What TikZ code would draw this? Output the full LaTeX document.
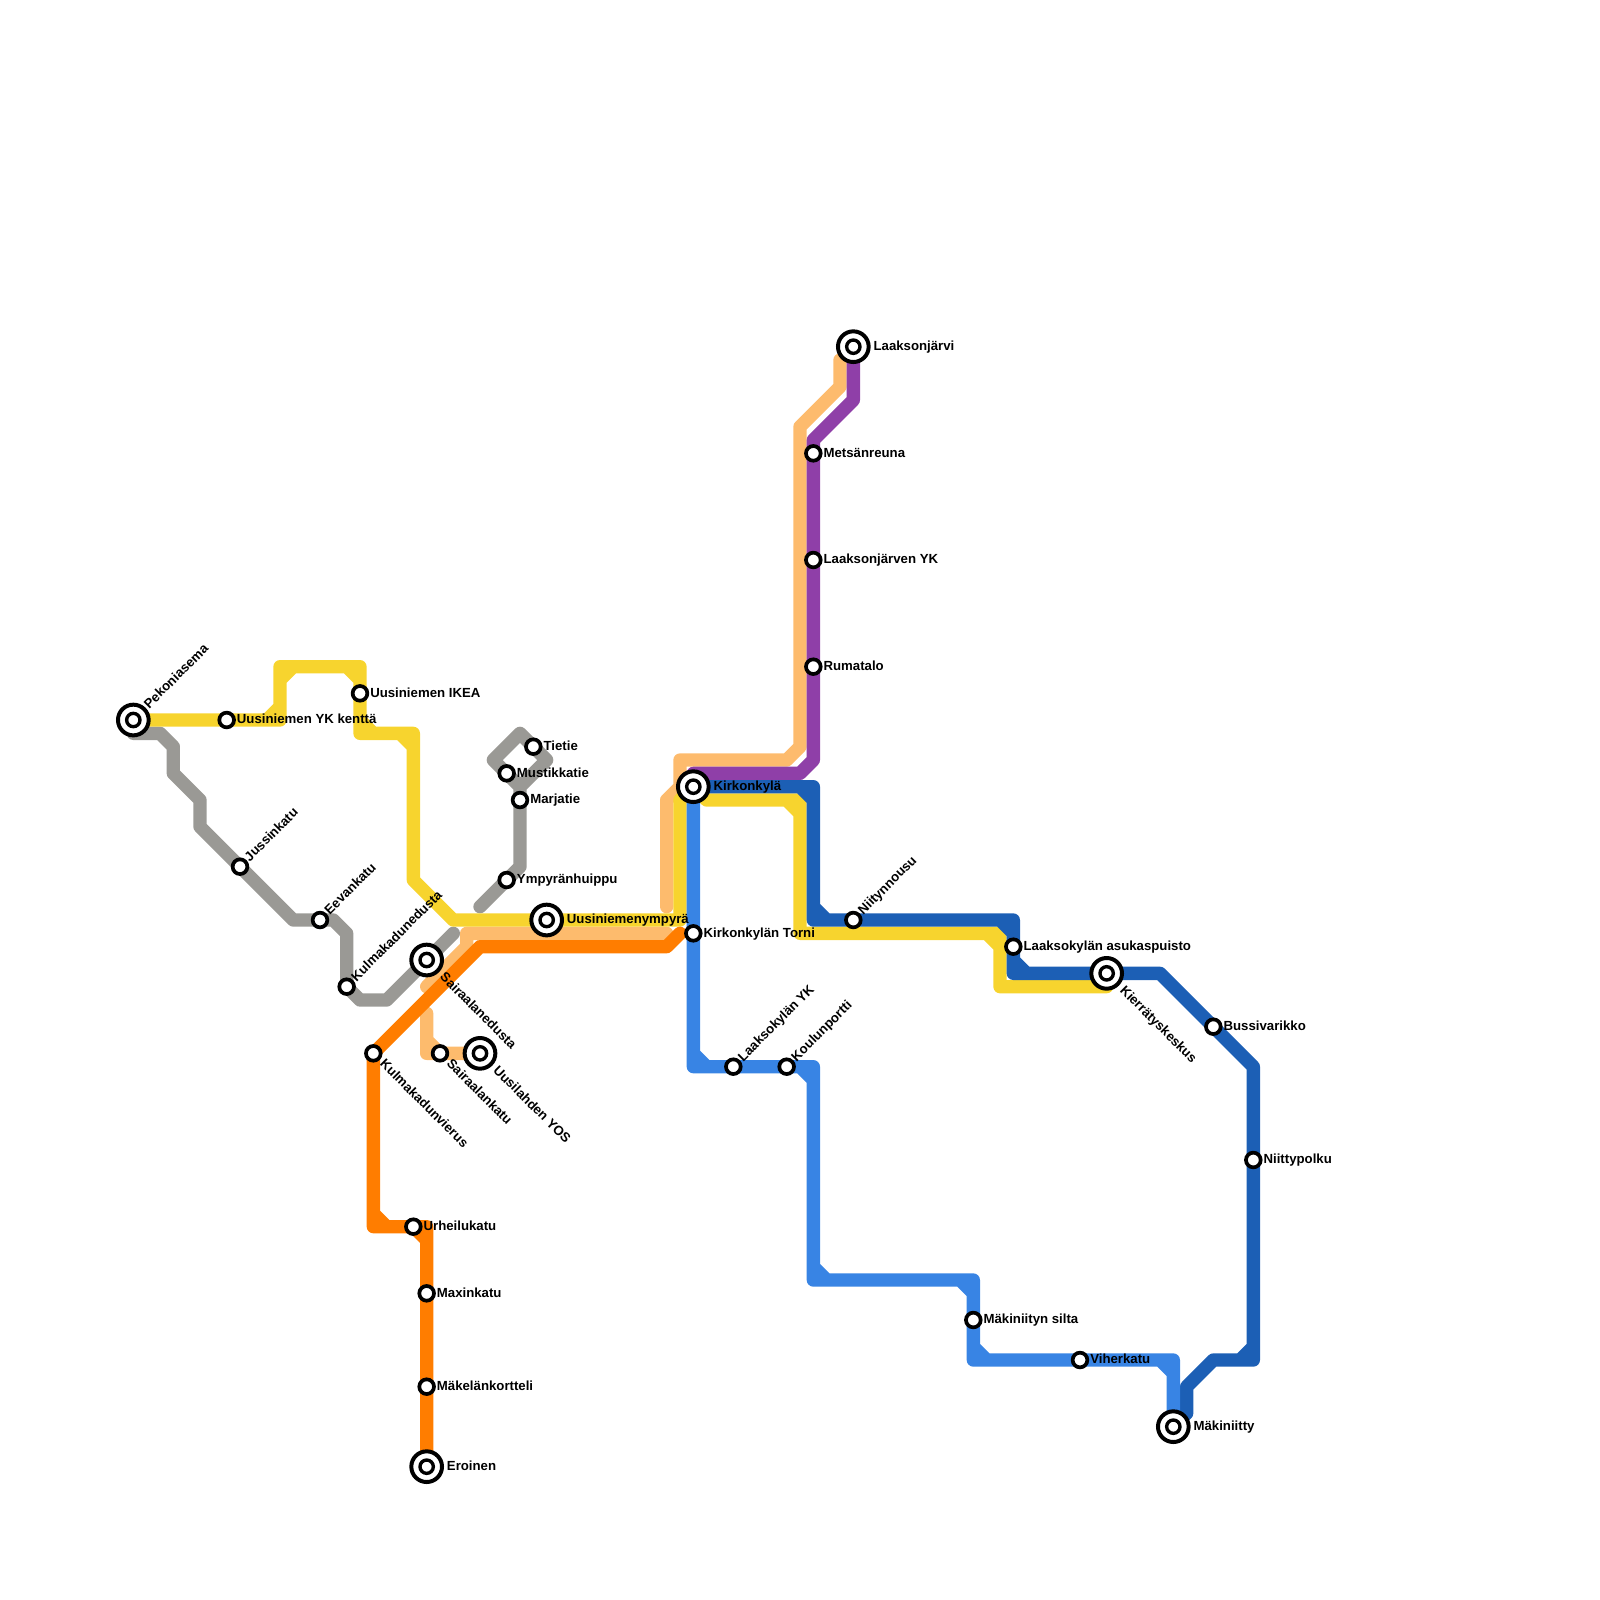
\documentclass[tikz,border=0pt]{standalone}
\usepackage{fontspec}
\setmainfont{Liberation Sans}
\usetikzlibrary{backgrounds}

\definecolor{ykeltainen}{HTML}{F7D42E}
\definecolor{harmaa}{HTML}{9A9995}
\definecolor{persikka}{HTML}{FDBB6D}
\definecolor{oranssi}{HTML}{FF7D00}
\definecolor{violetti}{HTML}{8F3FA8}
\definecolor{tummasin}{HTML}{1C5FB5}
\definecolor{sininen}{HTML}{3884E4}

\tikzset{
    route/.style={line width=1mm, line cap=round, line join=round},
    stop/.style={circle, draw=black, fill=white, line width=0.79pt, minimum size=3.14pt, inner sep=0pt},
    hub/.style={circle, draw=black, fill=white, line width=0.85pt, minimum size=6.55pt, inner sep=0pt},
    hubcore/.style={circle, draw=black, fill=white, line width=0.72pt, minimum size=2.85pt, inner sep=0pt},
    stoplabel/.style={inner sep=0pt, text height=2.2pt, text depth=0.6pt, font=\fontsize{2.82}{3.3}\selectfont\bfseries},
}

\begin{document}
\begin{tikzpicture}[x=1mm, y=-1mm]
    \useasboundingbox (0,0) rectangle (120,120);

    % small stops, label to the right
    \foreach \n/\x/\y/\t in {ykkentta/17/54/Uusiniemen YK kenttä, ikea/27/52/Uusiniemen IKEA,
        mustikkatie/38/58/Mustikkatie, tietie/40/56/Tietie, marjatie/39/60/Marjatie,
        huippu/38/66/Ympyränhuippu, torni/52/70/Kirkonkylän Torni,
        puisto/76/71/Laaksokylän asukaspuisto, varikko/91/77/Bussivarikko, niittypolku/94/87/Niittypolku,
        viherkatu/81/102/Viherkatu, silta/73/99/Mäkiniityn silta,
        urheilukatu/31/92/Urheilukatu, maxinkatu/32/97/Maxinkatu, kortteli/32/104/Mäkelänkortteli,
        metsanreuna/61/34/Metsänreuna, jarvenyk/61/42/Laaksonjärven YK, rumatalo/61/50/Rumatalo} {
        \node[stop] (\n) at (\x,\y) {};
        \node[stoplabel, anchor=west] (\n-text) at ([xshift=0.7mm]\n.center) {\t};
    }

    % small stops, label going up
    \foreach \n/\x/\y/\t in {jussinkatu/18/65/Jussinkatu, eevankatu/24/69/Eevankatu,
        kulmakatu/26/74/Kulmakadunedusta, laaksoyk/55/80/Laaksokylän YK,
        koulu/59/80/Koulunportti, niitty/64/69/Niitynnousu} {
        \node[stop] (\n) at (\x,\y) {};
        \node[stoplabel, anchor=west, rotate=45] (\n-text) at ([shift={(0.5,-0.5)}]\n.center) {\t};
    }

    % small stops, label going down
    \foreach \n/\x/\y/\t in {vierus/28/79/Kulmakadunvierus, sairaalankatu/33/79/Sairaalankatu} {
        \node[stop] (\n) at (\x,\y) {};
        \node[stoplabel, anchor=west, rotate=-45] (\n-text) at ([shift={(0.6,0.6)}]\n.center) {\t};
    }

    % terminals, label to the right
    \foreach \n/\x/\y/\t in {ympyra/41/69/Uusiniemenympyrä, kirkonkyla/52/59/Kirkonkylä,
        makiniitty/88/107/Mäkiniitty, eroinen/32/110/Eroinen, laaksonjarvi/64/26/Laaksonjärvi} {
        \node[hub] (\n) at (\x,\y) {};
        \node[hubcore] (\n-core) at (\n.center) {};
        \node[stoplabel, anchor=west] (\n-text) at ([xshift=1.45mm]\n.center) {\t};
    }

    % terminals, label going up
    \node[hub] (pekoni) at (10,54) {};
    \node[hubcore] (pekoni-core) at (pekoni.center) {};
    \node[stoplabel, anchor=west, rotate=45] (pekoni-text) at ([shift={(0.95,-0.95)}]pekoni.center) {Pekoniasema};

    % terminals, label going down
    \foreach \n/\x/\y/\t in {sairaala/32/72/Sairaalanedusta, yos/36/79/Uusilahden YOS, kierratys/83/73/Kierrätyskeskus} {
        \node[hub] (\n) at (\x,\y) {};
        \node[hubcore] (\n-core) at (\n.center) {};
        \node[stoplabel, anchor=west, rotate=-45] (\n-text) at ([shift={(1.1,1.1)}]\n.center) {\t};
    }

    \begin{pgfonlayer}{background}
        % grey
        \draw[route, harmaa] (pekoni.center) -- (10,55) -- (12,55) -- (13,56) -- (13,58) -- (15,60) -- (15,62)
            -- (22,69) -- (25,69) -- (26,70) -- (kulmakatu.center) -- (27,75) -- (29,75) -- (34,70);
        \draw[route, harmaa] (36,68) -- (39,65) -- (39,59) -- (41,57) -- (39,55) -- (37,57) -- (39,59);

        % peach
        \draw[route, persikka] (63,27) -- (63,29) -- (60,32) -- (60,56) -- (59,57) -- (51,57) -- (51,59)
            -- (50,60) -- (50,68);
        \draw[route, persikka] (50,70) -- (35,70) -- (35,71) -- (32,74);
        \draw[route, persikka] (32,76) -- (32,79) -- (yos.center) (32,78) -- (33,79);

        % yellow
        \draw[route, ykeltainen] (pekoni.center) -- (21,54) -- (21,50) -- (27,50) -- (27,55) -- (31,55) -- (31,66)
            -- (34,69) -- (51,69) -- (51,60) -- (kirkonkyla.center) -- (53,60) -- (60,60) -- (60,70) -- (75,70)
            -- (75,74) -- (83,74) -- (kierratys.center)
            (20,54) -- (21,53) (22,50) -- (21,51) (26,50) -- (27,51) (27,54) -- (28,55) (30,55) -- (31,56)
            (59,60) -- (60,61) (74,70) -- (75,71);

        % orange
        \draw[route, oranssi] (51,70) -- (50,71) -- (36,71) -- (vierus.center) -- (28,92) -- (32,92) -- (eroinen.center)
            (28,91) -- (29,92) (31,92) -- (32,93);

        % purple
        \draw[route, violetti] (laaksonjarvi.center) -- (64,30) -- (61,33) -- (61,57) -- (60,58) -- (52,58)
            -- (kirkonkyla.center);

        % dark blue
        \draw[route, tummasin] (kirkonkyla.center) -- (61,59) -- (61,69) -- (76,69) -- (76,73) -- (87,73) -- (94,80)
            -- (94,102) -- (91,102) -- (89,104) -- (89,106) -- (makiniitty.center)
            (60,59) -- (61,60) (61,68) -- (62,69) (75,69) -- (76,70) (76,72) -- (77,73) (93,102) -- (94,101);

        % blue
        \draw[route, sininen] (kirkonkyla.center) -- (52,80) -- (61,80) -- (61,96) -- (73,96) -- (73,102) -- (88,102)
            -- (makiniitty.center)
            (52,79) -- (53,80) (60,80) -- (61,81) (61,95) -- (62,96) (72,96) -- (73,97) (73,101) -- (74,102)
            (87,102) -- (88,103);
    \end{pgfonlayer}
\end{tikzpicture}
\end{document}
